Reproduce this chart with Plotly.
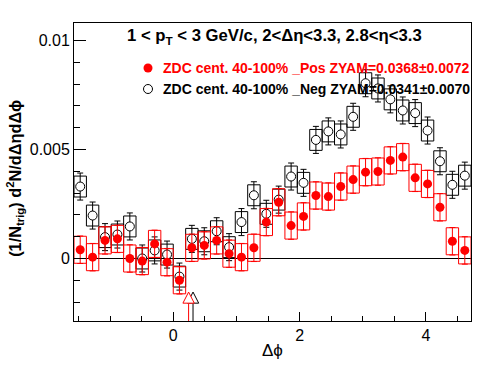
import numpy as np
import plotly.graph_objects as go

# ---- data ----
n_bins = 32
phi_lo, phi_hi = -np.pi / 2, 3 * np.pi / 2
bin_w = (phi_hi - phi_lo) / n_bins
dphi = phi_lo + bin_w * (np.arange(n_bins) + 0.5)

pos_vals = [0.00040, 0.00006, 0.00083, 0.00090, 0.00000, -0.00012, 0.00067, -0.00017,
            -0.00100, 0.00049, 0.00060, 0.00083, 0.00022, 0.00006, 0.00049, 0.00167,
            0.00258, 0.00151, 0.00193, 0.00289, 0.00284, 0.00330, 0.00362, 0.00396,
            0.00399, 0.00450, 0.00465, 0.00370, 0.00342, 0.00235, 0.00079, 0.00037]
neg_vals = [0.00330, 0.00197, 0.00098, 0.00110, 0.00147, 0.00000, 0.00037, 0.00018,
            -0.00083, 0.00090, 0.00079, 0.00125, 0.00052, 0.00167, 0.00290, 0.00205,
            0.00270, 0.00376, 0.00347, 0.00544, 0.00583, 0.00569, 0.00650, 0.00804,
            0.00780, 0.00730, 0.00679, 0.00667, 0.00587, 0.00446, 0.00338, 0.00380]
pos_stat = [0.00063] * n_bins
neg_stat = [0.00062] * n_bins
pos_sys = [0.00062] * n_bins
neg_sys = [0.00048] * n_bins

zyam_pos_x = 0.243
zyam_neg_x = 0.313

title_text = "<b>1 < p<sub>T</sub> < 3 GeV/c, 2<Δη<3.3, 2.8<η<3.3</b>"
pos_label = "<b>ZDC cent. 40-100% _Pos ZYAM=0.0368±0.0072</b>"
neg_label = "<b>ZDC cent. 40-100% _Neg ZYAM=0.0341±0.0070</b>"

RED = "#ff0000"
FONT = "Liberation Sans, Arial, Helvetica, sans-serif"

y_min, y_max = -0.002868, 0.010803

fig = go.Figure()


def box_trace(vals, sys, color):
    xs, ys = [], []
    for c, v, s in zip(dphi, vals, sys):
        x0, x1 = c - bin_w / 2, c + bin_w / 2
        xs += [x0, x1, x1, x0, x0, None]
        ys += [v - s, v - s, v + s, v + s, v - s, None]
    return go.Scatter(x=xs, y=ys, mode="lines", line=dict(color=color, width=1),
                      showlegend=False, hoverinfo="skip")


fig.add_trace(box_trace(neg_vals, neg_sys, "black"))
fig.add_trace(box_trace(pos_vals, pos_sys, RED))

fig.add_trace(go.Scatter(x=dphi, y=neg_vals, mode="markers",
                         marker=dict(symbol="circle", size=9, color="white",
                                     line=dict(color="black", width=1)),
                         error_y=dict(type="data", array=neg_stat, color="black",
                                      thickness=1, width=3),
                         showlegend=False))
fig.add_trace(go.Scatter(x=dphi, y=pos_vals, mode="markers",
                         marker=dict(symbol="circle", size=9, color=RED,
                                     line=dict(color=RED, width=0)),
                         error_y=dict(type="data", array=pos_stat, color=RED,
                                      thickness=1, width=3),
                         showlegend=False))

# legend markers on a hidden overlay axis
fig.add_trace(go.Scatter(x=[0.1864], y=[0.849], mode="markers", xaxis="x2", yaxis="y2",
                         marker=dict(symbol="circle", size=9, color=RED),
                         showlegend=False, hoverinfo="skip"))
fig.add_trace(go.Scatter(x=[0.1864], y=[0.7785], mode="markers", xaxis="x2", yaxis="y2",
                         marker=dict(symbol="circle", size=9, color="white",
                                     line=dict(color="black", width=1)),
                         showlegend=False, hoverinfo="skip"))

shapes = []
# ZYAM arrows
base_y, apex_y, half_w = -0.00205, -0.00154, 0.09
for xa, col in [(zyam_neg_x, "black"), (zyam_pos_x, RED)]:
    shapes.append(dict(type="line", xref="x", yref="y", x0=xa, x1=xa, y0=y_min, y1=base_y,
                       line=dict(color=col, width=1)))
    shapes.append(dict(type="path", xref="x", yref="y",
                       path=f"M {xa-half_w},{base_y} L {xa+half_w},{base_y} L {xa},{apex_y} Z",
                       fillcolor="white", line=dict(color=col, width=1)))

annotations = [
    dict(text=title_text, xref="paper", yref="paper", x=0.1285, y=0.955,
         xanchor="left", yanchor="middle", showarrow=False,
         font=dict(family=FONT, size=16.7, color="black")),
    dict(text=pos_label, xref="paper", yref="paper", x=0.219, y=0.849,
         xanchor="left", yanchor="middle", showarrow=False,
         font=dict(family=FONT, size=14, color=RED)),
    dict(text=neg_label, xref="paper", yref="paper", x=0.219, y=0.7785,
         xanchor="left", yanchor="middle", showarrow=False,
         font=dict(family=FONT, size=14, color="black")),
    dict(text="Δϕ", xref="paper", yref="paper", x=0.5, y=-0.10,
         xanchor="center", yanchor="middle", showarrow=False,
         font=dict(family=FONT, size=17, color="black")),
    dict(text="<b>(1/N<sub>trig</sub>) d<sup>2</sup>N/dΔηdΔϕ</b>", xref="paper", yref="paper",
         x=-0.149, y=0.48, xanchor="center", yanchor="middle", textangle=-90,
         showarrow=False, font=dict(family=FONT, size=16.3, color="black")),
]

fig.update_layout(
    width=496, height=374,
    margin=dict(l=74, r=25, t=23, b=53, pad=0),
    paper_bgcolor="white", plot_bgcolor="white",
    showlegend=False, hovermode=False,
    shapes=shapes, annotations=annotations,
    font=dict(family=FONT, size=16, color="black"),
    xaxis=dict(range=[phi_lo, phi_hi], tick0=0, dtick=2, ticks="inside", ticklen=9,
               tickwidth=1, tickcolor="black", automargin=False,
               minor=dict(ticks="inside", dtick=0.5, tick0=0, ticklen=5, tickcolor="black"),
               showline=True, linecolor="black", linewidth=1, mirror=True,
               showgrid=False, zeroline=False,
               tickfont=dict(family=FONT, size=16, color="black")),
    yaxis=dict(range=[y_min, y_max], tick0=0, dtick=0.005, ticks="inside", ticklen=12,
               tickwidth=1, tickcolor="black", automargin=False,
               minor=dict(ticks="inside", dtick=0.001, tick0=0, ticklen=6, tickcolor="black"),
               showline=True, linecolor="black", linewidth=1, mirror=True,
               showgrid=False, zeroline=True, zerolinecolor="black", zerolinewidth=1,
               tickfont=dict(family=FONT, size=16, color="black")),
    xaxis2=dict(overlaying="x", range=[0, 1], visible=False),
    yaxis2=dict(overlaying="y", range=[0, 1], visible=False),
)

fig.write_html("out.html", config={"displayModeBar": False},
               post_script="document.body.style.margin='0px';")
